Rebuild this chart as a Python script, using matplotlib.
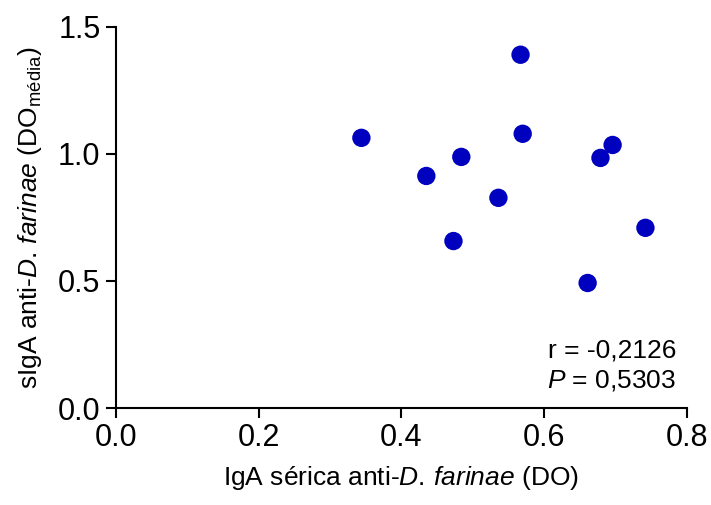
import matplotlib.pyplot as plt

plt.rcParams['font.family'] = ['Liberation Sans', 'DejaVu Sans']
plt.rcParams['mathtext.fontset'] = 'custom'
plt.rcParams['mathtext.rm'] = 'Liberation Sans'
plt.rcParams['mathtext.it'] = 'Liberation Sans:italic'

# IgA sérica vs sIgA anti-D. farinae
iga_serica = [0.344, 0.435, 0.484, 0.473, 0.536, 0.567, 0.570, 0.679, 0.696, 0.661, 0.742]
siga = [1.063, 0.913, 0.988, 0.657, 0.827, 1.390, 1.079, 0.984, 1.035, 0.492, 0.709]

x_ticks = [0.0, 0.2, 0.4, 0.6, 0.8]
y_ticks = [0.0, 0.5, 1.0, 1.5]

fig = plt.figure(figsize=(7.11, 5.05), dpi=100)
ax = fig.add_axes([0.163, 0.192, 0.803, 0.755])

ax.scatter(iga_serica, siga, s=175, color='#0000bf', edgecolors='none', zorder=3)

ax.set_xlim(0, 0.8)
ax.set_ylim(0, 1.5)
ax.set_xticks(x_ticks)
ax.set_yticks(y_ticks)
ax.set_xticklabels([f'{t:.1f}' for t in x_ticks])
ax.set_yticklabels([f'{t:.1f}' for t in y_ticks])

for side in ['top', 'right']:
    ax.spines[side].set_visible(False)
for side in ['left', 'bottom']:
    ax.spines[side].set_linewidth(1.5)
ax.tick_params(axis='both', which='major', direction='out', length=7, width=1.5,
               labelsize=22, pad=4)

ax.set_xlabel(r'IgA sérica anti-$\mathit{D.\,farinae}$ (DO)', fontsize=19, labelpad=8)
ax.set_ylabel(r'sIgA anti-$\mathit{D.\,farinae}$ (DO$_{\mathrm{média}}$)', fontsize=19, labelpad=10)

ax.text(0.982, 0.152, 'r = -0,2126', transform=ax.transAxes, ha='right', va='center', fontsize=19)
ax.text(0.982, 0.073, r'$\mathit{P}$ = 0,5303', transform=ax.transAxes, ha='right', va='center', fontsize=19)

fig.savefig('out.png', dpi=100)
